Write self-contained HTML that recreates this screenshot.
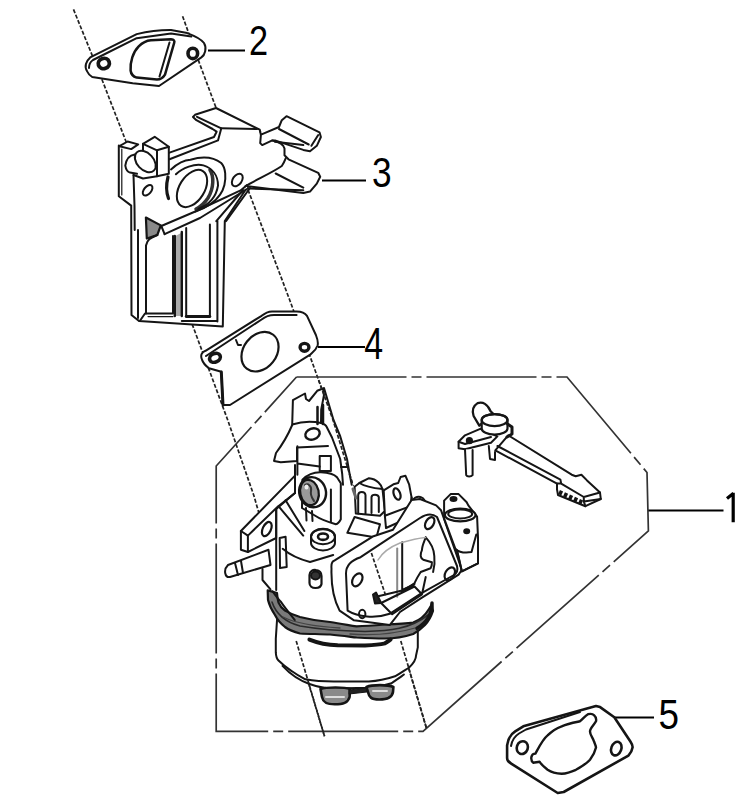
<!DOCTYPE html>
<html><head><meta charset="utf-8"><style>
html,body{margin:0;padding:0;background:#fff;}
body{width:742px;height:808px;overflow:hidden;}
svg{display:block;}
.n{font-family:"Liberation Sans",sans-serif;font-size:38px;fill:#000;}
</style></head><body>
<svg width="742" height="808" viewBox="0 0 742 808">
<g id="center" fill="none" stroke="#222" stroke-width="1.7" stroke-dasharray="4 1.8">
<polyline points="73.5,9.4 100.4,75.5 126,141.5 192.7,325.6 227.7,420 254,496 293.8,634.4 324.5,736.3"/>
<polyline points="182.6,16.2 200,64.7 215,105 248,189.7 289.7,300 333,420 400.5,640.8 426.4,728"/>
</g>
<g id="box" fill="none" stroke="#333" stroke-width="1.7" stroke-dasharray="110 5 10 5">
<polyline points="296.5,377 567,377 647,472.5 648.4,531 423,731.4 216.2,731.4 216.2,466 296.5,377" stroke-dashoffset="0"/>
</g>
<g id="leaders" stroke="#000" stroke-width="2" fill="none">
<line x1="208" y1="50.4" x2="245" y2="50.4"/>
<line x1="322" y1="180.5" x2="366" y2="180.5"/>
<line x1="318" y1="347" x2="365" y2="347"/>
<line x1="648.4" y1="510.5" x2="723.5" y2="510.5"/>
<line x1="614" y1="717.4" x2="654" y2="717.4"/>
</g>
<g id="nums" font-family="Liberation Sans, sans-serif" fill="#000">
<text transform="translate(248.9,55.3) scale(0.815,1)" font-size="42.1">2</text>
<text transform="translate(372,186.8) scale(0.826,1)" font-size="42.7">3</text>
<text transform="translate(364.3,359.3) scale(0.77,1)" font-size="44">4</text>
<text transform="translate(658.5,729.4) scale(0.87,1)" font-size="42.4">5</text>
<path d="M733.2,492.8 L733.2,522.2 M727,498.6 L733.5,493.3" stroke="#000" stroke-width="3.2" fill="none"/>
</g>
<g id="g2" fill="none" stroke="#151515" stroke-width="2" stroke-linejoin="round" stroke-linecap="round">
<path d="M87.2,71.5 C84,67 86,61 90.2,57.4 L136.7,34.1 C150,31 160,30 171,30.1 L187.2,33.1 C195,36 201,39 204,43 C207,48 205,55 201.4,57.4 L159,86 L132.7,83.2 L92.2,77 C90,75.5 88,73.5 87.2,71.5 Z" fill="#fff"/>
<path d="M89,68 C89,64 90,62 93,60 L136.7,38.2 L171,33.6 L191.3,36.6"/>
<ellipse cx="103.8" cy="63.5" rx="5.6" ry="5.1" stroke-width="3.8" transform="rotate(-20 103.8 63.5)"/>
<ellipse cx="192.8" cy="53.4" rx="4.8" ry="5.2" stroke-width="3.6"/>
<path d="M130.6,70.5 C130,62 133,52 138.7,46.3 C143,42 147,40.5 150.9,40.2 L171,39.2 C174,39.5 175,41 174.1,43.2 L165,74.6 C163,78 160,79.5 156.9,79.6 L136.7,77.6 C133,76.5 131,74 130.6,70.5 Z" stroke-width="2.5"/>
<path d="M169.5,42.5 L159.5,76.5"/>
</g>
<g id="p3" fill="none" stroke="#151515" stroke-width="2" stroke-linejoin="round" stroke-linecap="round">
<path fill="#fff" stroke="none" d="M118.6,147 L128.3,140.4 L138.8,144.5 L143.7,143.7 L154,136.4 L169.5,146.9 L169.5,152.6 L214,137 L212.6,129 L193,117 L216,108 L259.7,129.6 L261.6,134.4 L279,127 L286.5,116.2 L319.5,132.3 L320.9,137 L310,151.2 L284.5,148.5 L284.5,155.3 L318.2,172.8 L320.2,176.8 L310,191.6 L303.3,193 L248,186.3 L245.6,189.7 L224.8,221 L222.8,326.5 L139,321 L131.5,315 L132,206 L117.8,195.4 Z"/>
<ellipse cx="147.6" cy="190.3" rx="6.2" ry="3.6" transform="rotate(-50 147.6 190.3)" stroke-width="2"/>
<!-- outer left post -->
<path d="M118.8,145.6 L118.8,196.2 L131.2,205.6 L131.5,315 L139,321 L222.8,326.5 L224.8,221 L245.6,189.7"/>
<path d="M121.8,149 L121.8,195" stroke-width="1.2"/>
<path d="M133.5,175 L134.5,206 L134.7,230"/>
<path d="M138,230 L138,318"/>
<!-- post top -->
<path d="M119.4,146.2 L127.6,141.5 L138.2,144.4 L131.2,149.1 Z"/>
<!-- pin ellipses -->
<path d="M134.7,154.4 C130,155 126.5,157.4 125.3,165.6 C126,170 128,172 130,172.6 L137,173.8"/>
<ellipse cx="145.3" cy="161.5" rx="12.5" ry="8.3" transform="rotate(47 145.3 161.5)" stroke-width="2"/>
<!-- cube -->
<path d="M143,143.8 L154.7,136.8 L168.8,146.8 L157,150.3 Z"/>
<path d="M168.8,146.8 L168.8,173.8 L157,176.2 L157,150.3"/>
<path d="M143,143.8 L143,150 M157,176.2 L143,178.5 L133.5,175"/>
<path d="M168,177 C166,185 166,192 168.5,198.5" stroke-width="3.2"/>
<!-- strut from post to tab -->
<path d="M169.5,152.6 L214,137 L216.6,131.7 L212.6,129 L196.4,120.2 L193,117 L195,114.8 L216,108 L259.7,129.6 L260.2,131.7"/>
<path d="M169.5,159.3 L218,140.4 L221.3,128.3 L197,116.8"/>
<path d="M221.3,128.3 L257,129"/>
<!-- tab A -->
<path d="M260.2,131.7 L260.9,135 L260.2,143.1 L262.2,145.1 L272.3,140.4 L275,140.4 L303.3,149.9 L310,151.2 L316.8,145.8 L320.9,137 L319.5,132.3 L286.5,116.2 L281.8,120.2 L279,127 L261.6,134.4"/>
<path d="M279,129 L308.7,144.5 M311.4,145.8 L318.2,135 M275,141.8 L303.3,145.1"/>
<!-- tab B -->
<path d="M272.3,140.4 C280,142 284,145 284.5,148.5 L284.5,155.3 L288.5,159.3 L318.2,172.8 L320.2,176.8 L316.8,183.6 L310,191.6 L303.3,193 L248,186.3"/>
<path d="M245.4,186.3 C255,180 270,174 281.8,166 C284,163 285,160 285.8,158"/>
<path d="M275.7,173.5 L303.3,187.6 M249.4,188.5 L303.3,190.3"/>
<!-- port boss -->
<path d="M171,169.4 C178,163 184,160 190.4,159.7 C200,157 212,156 221.2,163 C226,168 226,178 224.4,185 C222,195 216,200 211.5,203.4 C205,208 200,210 195.3,211.5"/>
<ellipse cx="192" cy="188.5" rx="12.5" ry="20.5" transform="rotate(32 192 188.5)" stroke-width="2"/>
<path d="M210,170 C214,176 214,188 208,198 C204,204 200,207 196,209" stroke-width="3.5" stroke="#333"/>
<path d="M175.9,174.3 C182,168 195,163 203.4,165.4 C212,168 218,175 218,185.6 C216,198 208,205 198.5,208.6" />
<ellipse cx="237.3" cy="180" rx="7" ry="4.5" transform="rotate(-55 237.3 180)"/>
<!-- diagonal bars -->
<path d="M161.3,226 L195.3,211.5 L240.6,190.4 L247,185"/>
<path d="M164.6,234.1 L200,218 L248.7,188"/>
<path d="M145.9,217.5 L160.8,225.4 L157.3,235 L146.8,238.5 Z" stroke-width="2.2" fill="#8a8a8a"/>
<path d="M175.5,236 L181,233 L181,316 L175.5,316 Z" fill="#aaa" stroke="none"/>
<path d="M148,316.6 L173,316.6" stroke-width="1.2"/>
<path d="M161.3,226 L164.6,234.1"/>
<!-- windows -->
<path d="M146,313.5 L146,245.5 C147,240 150,238 157.3,235"/>
<path d="M146,313.5 L173,313.5 L173,236"/>
<path d="M174.8,236 L174.8,316 M181.8,232 L181.8,316" stroke-width="2.4"/>
<path d="M186.2,228 L186.2,316.5 L209.9,316.5 L209.9,224.5"/>
<path d="M186.2,316.5 L209.9,316.5" stroke-width="2.8"/>
<path d="M217.4,221 L217.4,321.5 M181.8,321 L217.4,321"/>
<path d="M139.8,321 L145,313.5 M216.3,221.2 L243,190 M226,221.2 L250,188"/>
</g>
<g id="g4" fill="none" stroke="#151515" stroke-width="2" stroke-linejoin="round" stroke-linecap="round">
<path fill="#fff" d="M202,359.6 C200,355 202,352 205.5,350.8 L261.6,315.8 C265,313 268,311.5 272,311.4 L296.6,311.4 C301,311.5 305,313 307,315.8 L315.9,335 C317.5,339 318.5,342 317.6,345.5 C316,350 313,352 310.6,354.3 L230,405 L223,405 L221.3,371.8 L209,368.3 C206,366 203,363 202,359.6 Z"/>
<path d="M206,356 L261.6,319.5 C266,316 270,315 274,315 L296.6,315"/>
<path d="M221.3,372 L223,405" stroke-width="3"/>
<ellipse cx="215" cy="357.8" rx="5.6" ry="4.2" transform="rotate(-25 215 357.8)" stroke-width="3.6"/>
<ellipse cx="304.5" cy="347.3" rx="4.4" ry="3.9" stroke-width="3.4"/>
<ellipse cx="260" cy="351.7" rx="16.5" ry="21.5" transform="rotate(38 260 351.7)" stroke-width="2.2"/>
<path d="M236,340 L238,345 L241,345"/>
</g>
<g id="g5" fill="none" stroke="#151515" stroke-width="2" stroke-linejoin="round" stroke-linecap="round">
<path fill="#fff" stroke-width="2.6" d="M507.1,745.5 C508,739 511,734 515.2,731.4 L523.3,726.3 L596,706.1 L600.1,707.1 L614.3,717.2 L630.4,741.5 C632,744 633,746 632.5,747.6 C632,751 630,754 628.4,755.6 L563.7,792 L557.7,793 L511.2,763.7 C508.5,762 507,760 507.1,757.7 Z"/>
<path d="M511,746 C512,740 515,736 519,733.5 L526,729.5 L580,712"/>
<ellipse cx="522.3" cy="747.6" rx="5.5" ry="6.5" transform="rotate(20 522.3 747.6)" stroke-width="2.6"/>
<ellipse cx="616.3" cy="748.6" rx="5" ry="7" transform="rotate(20 616.3 748.6)" stroke-width="2.6"/>
<path d="M531.4,757 C532,754 533.5,753.6 535.4,753.6 C540,745 543,739 547.6,735.4 C552,731 557,728 561.7,726.3 C568,723.5 574,722.5 579.9,721.3 C583,719 585,716 588,714.2 C591,713.5 593,714 594,715.2 C596,717 596.5,719 596,721.3 C594,725 590,728 590,731.4 C590,735 593,738 594,741.5 C595,744 596,746 596,747.6 C595,752 593,756 590,759.7 C586,764 581,767 575.9,769.8 C571,772 566,773.5 561.7,773.8 C556,773.5 551,772 547.6,769.8 C544,767 541,764 539.5,761.7 C537,762 535,762.7 533.4,762.7 C531.5,761.5 531,759.5 531.4,757 Z" stroke-width="2.4"/>
</g>
<g id="lever" fill="none" stroke="#151515" stroke-width="2" stroke-linejoin="round" stroke-linecap="round">
<path fill="#fff" d="M508.2,435.3 L571.7,474.7 L575.7,476.3 L581.4,474.7 L587,480.4 L600,492.5 L600.8,499 L585.4,506.2 L558,495 L557,489.3 L557,483.6 L495.3,450.4 Z"/>
<path d="M497.4,446 L560.4,479.6 L561.2,483.6 L557,483.6 M561.2,483.6 L583.8,497 L600,492.5 M583.8,497 L583.8,501.4 L600.8,499 M583.8,501.4 L585.4,506.2"/>
<path d="M559,492 L583,503" stroke-width="4.5" stroke-dasharray="3.5 2" stroke-linecap="butt"/>
<path fill="#fff" d="M458.6,441.8 L465,435.3 L480.2,428.8 L497.4,436.4 L491,442.8 L465,449.3 L458.6,448.2 Z"/>
<path d="M458.6,441.8 L465,444 L491,437"/>
<circle cx="469.4" cy="440.7" r="2.6" fill="#151515"/>
<path fill="#fff" d="M465,449.3 L466.2,475.2 C467,477 471,477 472.6,475.2 L472.6,450"/>
<path d="M488.8,446 L490,459 L495,460 L495,452"/>
<path fill="#fff" d="M479.3,425.7 L473.6,416 C472,411 473,406 477.6,403.1 C480,402.5 483,402.7 484.9,403.9 C487.5,405.5 489.5,408.5 490.6,411.2 L493,413.6 Z" stroke-width="2.3"/>
<path fill="#fff" d="M481.7,420.1 C481.7,416.8 487.5,414.1 494.6,414.1 C501.7,414.1 507.5,416.8 507.5,420.1 L507.5,428.5 C507.5,431.8 501.7,434.5 494.6,434.5 C487.5,434.5 481.7,431.8 481.7,428.5 Z" stroke-width="2.2"/>
<ellipse cx="494.6" cy="420.1" rx="12.9" ry="6" stroke-width="2.2"/>
<path d="M507.5,424 L512,427 L512,434 L507,437" stroke-width="3"/>
</g>
<g id="carb" fill="none" stroke="#151515" stroke-width="2" stroke-linejoin="round" stroke-linecap="round">
<!-- white backing silhouette -->
<path fill="#fff" stroke="none" d="M292.9,400.2 L305,393.5 L317.2,390.8 L324,388 L333.5,420 L347,459 L351.7,484.7 L354.6,486.7 L369,478.2 L382.5,489.1 L400.6,477 L405.5,475.8 L411.6,497.6 L420,499 L444.1,500.6 L450.6,494.1 L458.6,494.1 L468.3,505.4 L477.1,516.7 L478,563.4 L461.9,571.4 L458.6,574.6 L430.6,602.3 L417,632 L414.4,659 L403.6,669.7 L391,695 L368,700 L340,702 L322,700 L306.6,677.8 L285,669.7 L275.6,656.3 L277,624 L271.6,597 L270.5,589.3 L262.5,569 L230,577 L224,570 L228,565 L240.9,549.7 L240.9,531 L295,475.6 L297,447 L274,460.9 L275.4,455.5 L292.2,425 Z"/>
<!-- bowl -->
<path fill="#fff" d="M277.1,618.7 L275.8,638.9 L275.8,652.4 C276,657 277,659 278.5,660.5 C283,665 287,668 292,671.3 C297,675 301,677 305.4,679.3 C315,681 325,681.5 333.8,681.5 L368.8,681.5 C378,681 387,679 395,676.3 C401,673 405,670 409.1,667.5 C414,663 416,660 416.1,655.3 L417.8,647.4 L417.8,628.5"/>
<path d="M282.5,665.9 C290,674 298,680 309.5,684 C318,687 326,688.5 333.8,688.5 L368.8,687.7 C378,687 385,685.5 391.6,683.3 C396,680 401,677 403.9,674.5"/>
<path fill="#8a8a8a" stroke-width="2.6" d="M322,697 L320.5,689 C326,687 345,687 350,689 L349.6,697 C348,703 343,704.3 334.7,704.3 C326,704.3 323,702 322,697 Z"/>
<path d="M326,697 L344,697" stroke="#ddd" stroke-width="2"/>
<path fill="#8a8a8a" stroke-width="2.6" d="M368,692 L366.5,687 C372,684.5 388,684.5 393.4,687 L393,692 C392,698 387,699.5 379.3,699.5 C371,699.5 369,697 368,692 Z"/>
<path d="M373,691 L387,691" stroke="#ddd" stroke-width="2"/>
<path d="M349,690 L366.5,688 L366.5,692 L349,694 Z" fill="#222" stroke-width="1.2"/>
<!-- rim band -->
<path fill="#7a7a7a" stroke-width="2.2" d="M277,593 C277.5,598 278,601 278.5,602.5 C280,606 282,608.5 285,610.6 C290,613.5 295,615.5 300,617 C310,619.5 320,621 330,622 C340,623.5 348,625 356.6,626.4 C366,626 375,625.3 384.9,624.5 C395,624 405,623.5 413.2,622.6 C420,620 426,614 429,609 L432,604 L433,611 C431,617 428,622 425,625 C421,629 417,632 413.2,634 C404,637 394,638.5 384.9,638.5 C375,638.5 365,638 356.6,637.5 C348,636.5 340,635.5 330,634.5 C320,634 310,634 300,633.5 C294,632 289,630 285,627 C280,623 277,619 275,615 C271,609 269,604 268,600 L267.7,590.4 Z"/>
<path d="M272,602 C276,614 285,622 300,626 C320,629.5 345,631 365,631.5 C390,631 410,629 428,615" stroke="#2a2a2a" stroke-width="1.6"/>
<path d="M283,617 C295,623 315,626.5 340,628 M350,634 C370,635.5 395,634 415,628" stroke="#444" stroke-width="1.3"/>
<path d="M309.4,639.6 C318,643 328,645 337.7,645.3 L365,645.5 C375,645 380,644.5 384.9,643.4 C387,642 389,641 390.6,639.6" stroke-width="4"/>
<path d="M432,603 C432,614 426,623 417,628.3" stroke-width="3.5"/>
<!-- throttle lever top -->
<path fill="#fff" d="M292.2,424.5 L292.9,400.2 L305,393.5 L306,399 L309,401 L317.2,390.8 L323,388.5 L324,395 L321.2,409.6 L321,423 C312,421 300,422 292.2,424.5 Z"/>
<path d="M317.5,407 L317.5,424 M323,405 L323,424" stroke-width="2.5"/>
<path d="M292.2,425 C288,435 282,445 276,453 L274,460.9 L280.8,462.2 L297,460.9 L297,447.4 L328,446"/>
<path d="M321.2,423 C324,424 326,425 326.7,427 L332,437.5 L340.2,459 L342.2,474 L343,484.7"/>
<ellipse cx="312.5" cy="434" rx="7.4" ry="5.4" transform="rotate(-20 312.5 434)" stroke-width="2.4"/>
<path d="M324,388 L333.5,420 L340.2,436.2 L347,459 L349.6,474 L351.7,484.7 M341,467 L348.5,467"/>
<!-- throttle lever lower body -->
<path d="M297.4,446.2 L297.4,474.7 M297.4,463.5 L319.7,466.6"/>
<path d="M319.7,456 L330.9,456 L330.9,471 L319.7,471 Z"/>
<path fill="#fff" d="M302.4,479.6 C308,474 315,472 321,472.2 C328,472.5 334,474 337,477.2 L340.8,483.3 L340.8,519.3 C339,523 337,524 335.8,524.2 C328,522 320,519 314.8,515.5 L302,508 Z"/>
<path d="M330.9,489.5 L330.9,521.7"/>
<!-- screw head -->
<ellipse cx="312.6" cy="492.2" rx="13.3" ry="15.2" transform="rotate(-15 312.6 492.2)" fill="#fff" stroke-width="2.4"/>
<ellipse cx="309.5" cy="492.5" rx="9.2" ry="12.8" transform="rotate(-12 309.5 492.5)" stroke-width="2.2" fill="#9a9a9a"/>
<path d="M305,485 C308,483 312,486 311,491 C310,496 313,499 314,501" stroke="#333" stroke-width="2"/>
<ellipse cx="306.5" cy="487" rx="2" ry="2.5" fill="#eee" stroke="none"/>
<path d="M306,508 L306.5,520.5 M312,511 L312.5,521"/>
<!-- mounting ear -->
<path fill="#fff" d="M240.9,531 L295,475.6 L295,493 L276.2,509 L276.2,538 L247.9,552 L240.9,549.7 Z"/>
<path d="M240.9,531 L247.9,535.6 L277.4,507 L295,493"/>
<path d="M247.9,535.6 L247.9,552"/>
<ellipse cx="266.8" cy="529.1" rx="4.1" ry="7.6" transform="rotate(25 266.8 529.1)" stroke-width="2.2"/>
<path d="M295,465 L295,493"/>
<!-- body left edge -->
<path d="M276.2,509 L276.2,590"/>
<path d="M278.5,506.2 L303.2,535.6 M285.6,500.3 L304.4,530.9"/>
<!-- fuel inlet -->
<path fill="#fff" d="M228,565 L268.5,549.8 L270.5,565 L230,577 C225,578 223,570 228,565 Z"/>
<path d="M235,563 L238,575 M241,561 L243,573"/>
<path d="M262.5,569 L262.5,580 L270.5,589.3"/>
<path fill="#fff" d="M279.7,538 L285.6,536.8 L286.7,567 L280,568 Z"/>
<!-- nut -->
<path fill="#fff" d="M311,537 C311,532 316.5,528.7 323,528.7 C329.5,528.7 335,532 335,537 L335,543 C335,547 329.5,550.5 323,550.5 C316.5,550.5 311,547 311,543 Z"/>
<ellipse cx="323" cy="536.7" rx="12" ry="7.5" stroke-width="2"/>
<ellipse cx="323" cy="536.7" rx="5" ry="3.2" stroke-width="2.6"/>
<!-- body curves -->
<path d="M282.7,548.8 C290,555 298,559 310,562 L333.2,555"/>
<path d="M272.6,591.3 C276,596 279,600 280.6,601.4 C285,608 290,614 294.8,620"/>
<path fill="#fff" d="M309.5,575 C309.5,571 313,569.5 316,570 C319.5,570.5 321.5,573 321.5,576 L321.5,584 C321,587 318,588 315.5,588 C312,588 309.5,586 309.5,583 Z" stroke-width="2.2"/>
<ellipse cx="315.5" cy="575.5" rx="4.5" ry="4" fill="#333"/>
<!-- top small parts -->
<path fill="#fff" d="M354.6,486.7 L359.4,483 L369,478.2 C373,478.5 376,480 378.5,482.5 C381,485 382.3,487.5 382.5,489.1 L384.9,511 L380,515.8 L355.8,513.4 Z"/>
<path d="M359.4,483 C364,486 372,488 382.5,489.1"/>
<path d="M353,489 L356,498" stroke="#666" stroke-width="3"/>
<path d="M358.2,513.4 L358.2,495 C358.5,491 365,491 365.5,495 L365.5,513.4 M371.5,513 L371.5,497 C372,494 378,494 378.8,497 L378.8,512"/>
<path fill="#fff" d="M354.6,517 L380,524.3 L376.4,537.6 L347.3,532.8 Z"/>
<path fill="#fff" d="M383.7,490.3 L393.4,484.3 L398.2,483 L400.6,477 L405.5,475.8 L409.1,484.3 L411.6,497.6 L412.8,515.8 L386,528 L384.9,515.8 Z"/>
<path d="M384.9,515.8 L410.4,506.1 L412.8,515.8 M410.4,506.1 L411.6,497.6"/>
<ellipse cx="397" cy="494" rx="3.2" ry="6" transform="rotate(-20 397 494)" stroke-width="2.2"/>
<path fill="#fff" d="M412,502 C413,498 417,496 420.5,497 C424.5,498 426,502 425.5,506 C424.5,510 421,512 417.5,511.5 C414,511 411.5,506 412,502 Z"/>
<!-- flange side (thickness) -->
<path fill="#fff" d="M331.5,568.5 C331,563 332,561 334.7,560.4 L373.5,536.2 L393,529.7 L411.6,500 L420,499 L436.1,505.4 L441,510.2 L461.9,569.8 L458.6,574.6 L420,598.8 L400,612 L389.7,625.1 L354,620.3 L339.6,610.6 C334,600 331,585 331.5,568.5 Z"/>
<!-- flange face -->
<path d="M346,573.4 C346,565 352,560 360.6,557.2 L389.7,537.8 L420,518 C426,514 432,513 437,517 L457,566 C458,570 457,573 454,575 L422,592.8 L389.7,613.8 C375,619 358,617 347.6,610.6 L346,573.4"/>
<ellipse cx="357.3" cy="579.8" rx="4.5" ry="7" transform="rotate(30 357.3 579.8)" stroke-width="2.2"/>
<ellipse cx="362.2" cy="614" rx="3.2" ry="4.2" stroke-width="2"/>
<ellipse cx="429.7" cy="523.1" rx="4" ry="6.5" transform="rotate(30 429.7 523.1)" stroke-width="2.2"/>
<ellipse cx="449.8" cy="573.8" rx="4.5" ry="7" transform="rotate(30 449.8 573.8)" stroke-width="2.2"/>
<!-- bore -->
<path d="M397.2,548.5 L397.2,596.8" stroke="#888" stroke-width="2"/>
<path d="M402.2,542.3 L402.2,589.4"/>
<path d="M425.7,537.4 C424,542 422,546 422,549.8 C421,552 420.5,554 420.7,556 C421,558 422,559 423.2,559.7 L431.9,562.2 C432,565 431.5,567 430.6,568.3 L420.7,572 C418,576 416,580 414.5,583.2 C411,586 407,588 403.4,589.4"/>
<path d="M425.7,537.4 C431,543 434,550 434.3,556 C435,562 434.5,567 433.1,572"/>
<path d="M375,597 L402.2,590.5 L414.5,584 M381.1,603 L414.5,586.5 L422,594.3 L392.2,614.2 Z M422,594.3 L425.7,577"/>
<path d="M373,594.5 L376,592.5 L381.1,603 L375,603.5 Z" fill="#222"/>
<path d="M378,560 C382,553 390,547 400,543 C410,540 418,538 425.7,537.4" stroke="#aaa" stroke-width="1.5"/>
<!-- choke boss -->
<path fill="#fff" d="M444.1,500.6 L450.6,494.1 L458.6,494.1 L466.7,502.2 L468.3,505.4 L477.1,516.7 L478,537.6 L478,563.4 L461.9,571.4 L457,550.5 L455.4,548.9 L444.1,518.3 Z"/>
<ellipse cx="460.2" cy="515" rx="15.3" ry="6.4" fill="#fff" stroke-width="2.2"/>
<ellipse cx="460.2" cy="514" rx="12" ry="4.5"/>
<path d="M455.4,548.9 C460,553 466,553 471.5,552.1 L476.3,534.4"/>
<path d="M457,550.5 L461.9,571.4 L478,563.4"/>
<ellipse cx="466.7" cy="531.2" rx="2.5" ry="2" fill="#151515"/>
<ellipse cx="453.5" cy="499" rx="3" ry="2" fill="#151515"/>
</g>


<g id="center2" fill="none" stroke="#222" stroke-width="1.7" stroke-dasharray="4 1.8">
<polyline points="296.2,641 324.5,736.3"/>
<polyline points="371.4,553 386,596.5"/>
<polyline points="318.6,380 333,420 352.3,483"/>
<polyline points="400.8,641 426.4,728"/>
</g>
</svg>
</body></html>
